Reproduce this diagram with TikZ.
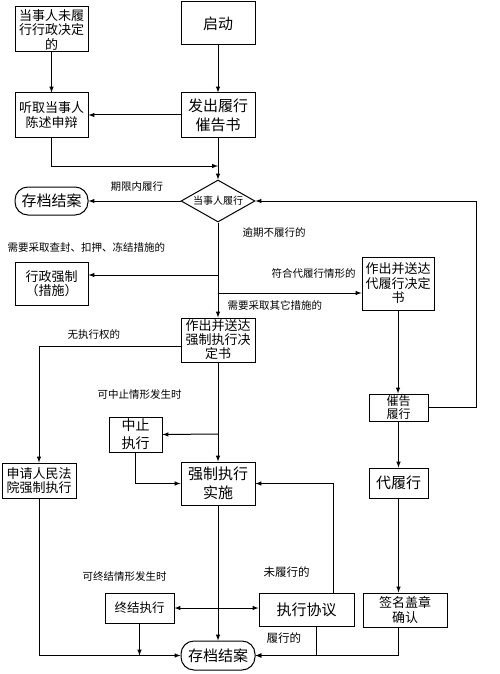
\documentclass[tikz,border=0pt]{standalone}
\usepackage{fontspec}
\setmainfont{Noto Sans CJK SC}
\usetikzlibrary{shapes.geometric}

\begin{document}
\begin{tikzpicture}[x=1pt,y=1pt,line width=1pt]
\tikzstyle{every node}+=[inner sep=0pt]
\tikzstyle{box}=[draw,black,align=center,font=\fontsize{13}{14.5}\selectfont]
\tikzstyle{big}=[font=\fontsize{15}{19}\selectfont]
\tikzstyle{term}=[draw,black,rounded corners=13pt,align=center,font=\fontsize{15}{18}\selectfont]
\tikzstyle{lbl}=[anchor=west,font=\fontsize{10.5}{12}\selectfont]
\tikzstyle{arr}=[-latex]
\useasboundingbox (0,0) rectangle (499,-674);
\node[box,minimum width=73,minimum height=45] (weilv) at (51.5,-29.5) {当事人未履\\行行政决定\\的};
\node[box,big,minimum width=74,minimum height=43] (qidong) at (218,-23.5) {启动};
\node[box,minimum width=73,minimum height=44] (tingqu) at (51.5,-115) {听取当事人\\陈述申辩};
\node[box,big,minimum width=74,minimum height=44] (cuigao) at (218,-115) {发出履行\\催告书};
\node[diamond,draw,shape aspect=1.76,minimum width=74,minimum height=42,font=\fontsize{10}{12}\selectfont] (lvxing) at (218,-201) {当事人履行};
\node[term,minimum width=73,minimum height=28] (cundang) at (51.5,-201) {存档结案};
\node[box,minimum width=73,minimum height=43] (xingzheng) at (51.5,-283.5) {行政强制\\（措施）};
\node[box,minimum width=72,minimum height=53] (daijue) at (398,-283.5) {作出并送达\\代履行决定\\书};
\node[box,font=\fontsize{13}{14}\selectfont,minimum width=74,minimum height=44] (qiangjue) at (218,-340) {作出并送达\\强制执行决\\定书};
\node[box,minimum width=74,minimum height=35] (shenqing) at (39,-480.5) {申请人民法\\院强制执行};
\node[box,font=\fontsize{14}{18}\selectfont,minimum width=53,minimum height=35] (zhongzhi) at (135.5,-434.5) {中止\\执行};
\node[box,big,minimum width=74,minimum height=43] (shishi) at (218,-483.5) {强制执行\\实施};
\node[box,font=\fontsize{12.5}{14}\selectfont,minimum width=69,minimum height=30] (zhongjie) at (139.5,-608) {终结执行};
\node[box,big,minimum width=95,minimum height=33] (xieyi) at (306.5,-609.5) {执行协议};
\node[term,minimum width=74,minimum height=29] (jiean) at (218,-655.5) {存档结案};
\node[box,font=\fontsize{12}{13}\selectfont,minimum width=59,minimum height=27] (cuilv) at (398.5,-407.5) {催告\\履行};
\node[box,big,minimum width=59,minimum height=30] (dailv) at (398.5,-483) {代履行};
\node[box,minimum width=84,minimum height=34] (qianming) at (405,-610) {签名盖章\\确认};
\node[lbl] (qixian) at (110,-187) {期限内履行};
\node[lbl] (yuqi) at (242,-233) {逾期不履行的};
\node[lbl] (chafeng) at (7,-247) {需要采取查封、扣押、冻结措施的};
\node[lbl] (fuhe) at (271,-274) {符合代履行情形的};
\node[lbl] (qita) at (227,-305) {需要采取其它措施的};
\node[lbl] (wuquan) at (67,-335) {无执行权的};
\node[lbl] (kezhong) at (97,-395) {可中止情形发生时};
\node[lbl] (kejie) at (82,-577) {可终结情形发生时};
\node[lbl,font=\fontsize{11.5}{13}\selectfont] (weilvde) at (263,-572) {未履行的};
\node[lbl,font=\fontsize{11.5}{13}\selectfont] (lvde) at (266,-638) {履行的};
\coordinate (hui) at (218,-166);
\coordinate (r) at (476,0);
\coordinate (b1) at (218,-275);
\coordinate (b2) at (218,-293);
\coordinate (b3) at (218,-434);
\coordinate (b4) at (218,-608);
\draw[arr] (qidong) -- (cuigao);
\draw[arr] (weilv) -- (tingqu);
\draw[arr] (cuigao) -- (tingqu);
\draw[arr] (tingqu.south) |- (hui);
\draw[arr] (cuigao) -- (lvxing);
\draw[arr] (lvxing) -- (cundang);
\draw[arr] (cuilv.east) -| (r |- lvxing.east) -- (lvxing.east);
\draw[arr] (lvxing) -- (qiangjue);
\draw[arr] (b1) -- (b1 -| xingzheng.east);
\draw[arr] (b2) -- (b2 -| daijue.west);
\draw[arr] ([yshift=-6pt]qiangjue.west) -| (shenqing.north);
\draw[arr] (qiangjue) -- (shishi);
\draw[arr] (b3) -- (zhongzhi.east);
\draw[arr] (zhongzhi.south) |- (shishi.west);
\draw[arr] (shishi) -- (jiean);
\draw[arr] (b4) -- (zhongjie.east);
\draw[arr] (b4) -- (b4 -| xieyi.west);
\draw[arr] ([xshift=26.5pt]xieyi.north) |- (shishi.east);
\draw[arr] ([xshift=9.5pt]xieyi.south) |- (jiean.east);
\draw[arr] (qianming.south -| dailv) |- (jiean.east);
\draw[arr] (shenqing.south) |- (jiean.west);
\draw[arr] (zhongjie.south) -- (zhongjie.south |- jiean.west);
\draw[arr] (daijue.south) -- (daijue.south |- cuilv.north);
\draw[arr] (cuilv) -- (dailv);
\draw[arr] (dailv.south) -- (dailv.south |- qianming.north);
\end{tikzpicture}
\end{document}
